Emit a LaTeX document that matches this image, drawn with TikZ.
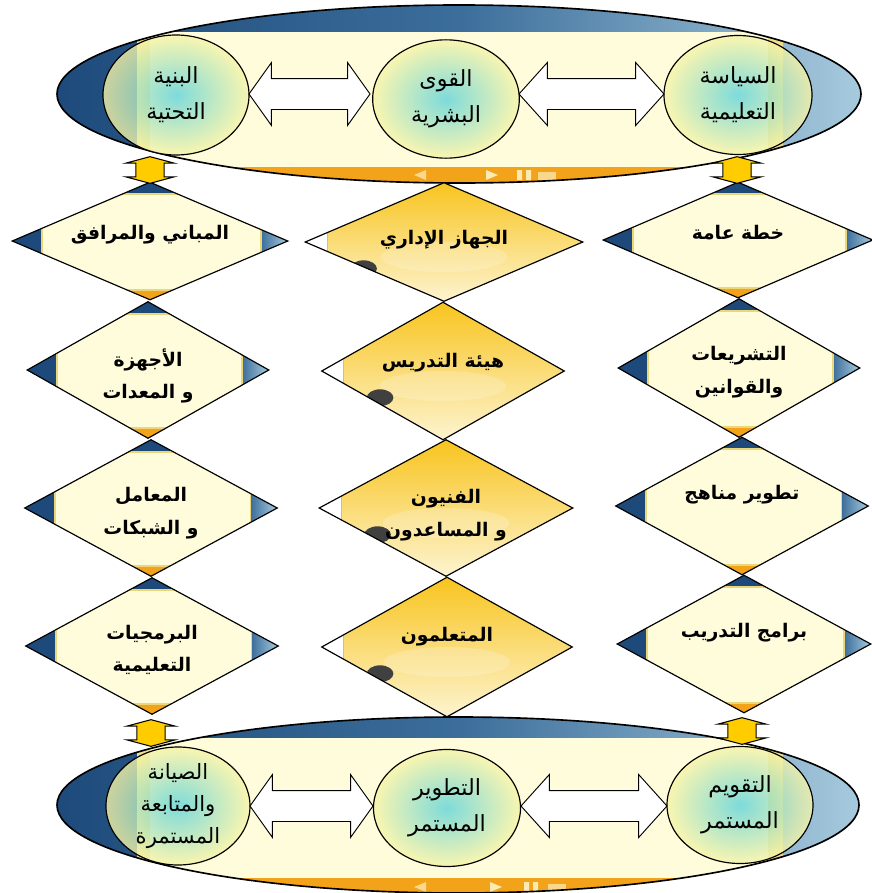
\documentclass[tikz,border=0pt]{standalone}
\usepackage{fontspec}
\newfontfamily\arabicfont[Script=Arabic]{DejaVu Sans}
\TeXXeTstate=1
\usetikzlibrary{shapes.geometric,shapes.arrows}
\definecolor{cream}{HTML}{FFFCDC}
\definecolor{panelrim}{HTML}{EBD77A}
\definecolor{deepblue}{HTML}{1D4A7A}
\definecolor{midblue}{HTML}{3C6E9B}
\definecolor{paleblue}{HTML}{A9CCDF}
\definecolor{barorange}{HTML}{F2A31A}
\definecolor{gold}{HTML}{F8C41E}
\definecolor{palegold}{HTML}{FDF4D0}
\definecolor{aqua}{HTML}{5ED3DB}
\definecolor{lemon}{HTML}{F8F4A6}
\definecolor{liftgold}{HTML}{FFCC00}
\newcommand\rl[1]{\beginR#1\endR}

\begin{document}
\begin{tikzpicture}[x=0.03cm,y=-0.03cm,
  orb/.style={ellipse,draw,line width=1pt,inner color=aqua,outer color=lemon,fill opacity=0.8,text opacity=1,align=center,font=\arabicfont\fontsize{19}{31}\selectfont},
  link/.style={double arrow,draw,line width=0.8pt,fill=white,minimum width=1.86cm,double arrow head extend=0.48cm,inner xsep=0pt,inner ysep=0.45cm},
  lift/.style={double arrow,draw,line width=0.9pt,fill=liftgold,rotate=90,minimum height=0.8cm,minimum width=1.42cm,double arrow head extend=0.3cm,double arrow tip angle=150,inner xsep=0pt,inner ysep=0.41cm},
  tile/.style={diamond,draw,line width=1pt,inner sep=0pt,fill=cream,path picture={
    \fill[deepblue] (path picture bounding box.south west) rectangle ([xshift=0.9cm]path picture bounding box.north west);
    \shade[left color=midblue,right color=paleblue] ([xshift=-0.8cm]path picture bounding box.south east) rectangle (path picture bounding box.north east);
    \fill[deepblue] (path picture bounding box.north west) rectangle ([yshift=-0.36cm]path picture bounding box.north east);
    \fill[barorange] (path picture bounding box.south west) rectangle ([yshift=0.3cm]path picture bounding box.south east);
    \draw[panelrim,line width=1.5pt] ([xshift=0.9cm,yshift=0.3cm]path picture bounding box.south west) rectangle ([xshift=-0.8cm,yshift=-0.36cm]path picture bounding box.north east);}},
  goldtile/.style={diamond,draw,line width=1pt,inner sep=0pt,top color=gold,bottom color=palegold,path picture={
    \fill[white,opacity=0.2] ([yshift=-0.45cm]path picture bounding box.center) ellipse [x radius=1.9cm,y radius=0.45cm];
    \fill[white] (path picture bounding box.south west) rectangle ([xshift=0.66cm]path picture bounding box.north west);
    \draw[black!25] ([xshift=0.66cm]path picture bounding box.south west) -- ([xshift=0.66cm]path picture bounding box.north west);
    \fill[black!75] ([xshift=1.75cm,yshift=-0.8cm]path picture bounding box.west) ellipse [x radius=0.4cm,y radius=0.25cm];}},
  tiletext/.style={align=center,font=\arabicfont\bfseries\fontsize{16}{28}\selectfont}]
\useasboundingbox[fill=white] (0,0) rectangle (872,893);

\begin{scope}
 \clip (459,94) ellipse [x radius=402,y radius=89];
 \shade[left color=deepblue,right color=paleblue,middle color=midblue] (50,0) rectangle (870,190);
 \fill[cream] (137,32) rectangle (783,167);
 \fill[panelrim,opacity=0.8] (137,32) rectangle (150,167);
 \fill[panelrim,opacity=0.8] (768,32) rectangle (783,167);
 \fill[barorange] (137,167) rectangle (783,190);
 \fill[cream,opacity=0.6] (414,175)--(426,170)--(426,180)--cycle;
 \fill[cream,opacity=0.8] (486,170)--(498,175)--(486,180)--cycle;
 \fill[cream,opacity=0.8] (517,170) rectangle (522,180) (526,170) rectangle (531,180);
 \fill[cream,opacity=0.6] (538,172) rectangle (556,180);
\end{scope}
\draw[line width=1.4pt] (459,94) ellipse [x radius=402,y radius=89];

\begin{scope}
 \clip (458,805) ellipse [x radius=401,y radius=88];
 \shade[left color=deepblue,right color=paleblue,middle color=midblue] (50,715) rectangle (870,893);
 \fill[cream] (137,738) rectangle (783,878);
 \fill[panelrim,opacity=0.8] (137,738) rectangle (150,878);
 \fill[panelrim,opacity=0.8] (768,738) rectangle (783,878);
 \fill[barorange] (137,878) rectangle (783,895);
 \fill[cream,opacity=0.6] (414,887)--(426,882)--(426,892)--cycle;
 \fill[cream,opacity=0.8] (490,882)--(502,887)--(490,892)--cycle;
 \fill[cream,opacity=0.8] (524,882) rectangle (529,892) (533,882) rectangle (538,892);
 \fill[cream,opacity=0.6] (548,884) rectangle (566,892);
\end{scope}
\draw[line width=1.4pt] (458,805) ellipse [x radius=401,y radius=88];

\node[tile,minimum width=8.28cm,minimum height=3.54cm] (infra1) at (150,241) {};
\node[tile,minimum width=7.26cm,minimum height=4.11cm] (infra2) at (148,370) {};
\node[tile,minimum width=7.59cm,minimum height=4.11cm] (infra3) at (151,508) {};
\node[tile,minimum width=7.59cm,minimum height=4.11cm] (infra4) at (152,646) {};
\node[goldtile,minimum width=8.34cm,minimum height=3.57cm] (staff1) at (444,242) {};
\node[goldtile,minimum width=7.29cm,minimum height=4.14cm] (staff2) at (443,371) {};
\node[goldtile,minimum width=7.62cm,minimum height=4.11cm] (staff3) at (446,508) {};
\node[goldtile,minimum width=7.53cm,minimum height=4.2cm] (staff4) at (447,647) {};
\node[tile,minimum width=8.1cm,minimum height=3.48cm] (policy1) at (738,240) {};
\node[tile,minimum width=7.26cm,minimum height=4.17cm] (policy2) at (739,368) {};
\node[tile,minimum width=7.59cm,minimum height=4.14cm] (policy3) at (742,506) {};
\node[tile,minimum width=7.62cm,minimum height=4.14cm] (policy4) at (744,644) {};

\node[tiletext] (infra1t) at (150,235) {\rl{المباني والمرافق}};
\node[tiletext] (infra2t) at (148,376) {\rl{الأجهزة}\\\rl{و المعدات}};
\node[tiletext] (infra3t) at (151,513) {\rl{المعامل}\\\rl{و الشبكات}};
\node[tiletext] (infra4t) at (152,650) {\rl{البرمجيات}\\\rl{التعليمية}};
\node[tiletext] (staff1t) at (444,240) {\rl{الجهاز الإداري}};
\node[tiletext] (staff2t) at (443,363) {\rl{هيئة التدريس}};
\node[tiletext] (staff3t) at (446,515) {\rl{الفنيون}\\\rl{و المساعدون}};
\node[tiletext] (staff4t) at (447,637) {\rl{المتعلمون}};
\node[tiletext] (policy1t) at (738,233) {\rl{خطة عامة}};
\node[tiletext] (policy2t) at (739,372) {\rl{التشريعات}\\\rl{والقوانين}};
\node[tiletext] (policy3t) at (742,495) {\rl{تطوير مناهج}};
\node[tiletext] (policy4t) at (744,633) {\rl{برامج التدريب}};

\node[lift] (liftA) at (150,170) {};
\node[lift] (liftB) at (737,170) {};
\node[lift] (liftC) at (151,733) {};
\node[lift] (liftD) at (742,731) {};

\node[orb,minimum width=4.38cm,minimum height=3.6cm] (infra) at (176,95) {\rl{البنية}\\\rl{التحتية}};
\node[orb,minimum width=4.4cm,minimum height=3.55cm] (staff) at (446,99) {\rl{القوى}\\\rl{البشرية}};
\node[orb,minimum width=4.44cm,minimum height=3.57cm] (policy) at (738,95) {\rl{السياسة}\\\rl{التعليمية}};
\node[orb,minimum width=4.32cm,minimum height=3.54cm,inner ysep=-20pt,font=\arabicfont\fontsize{18}{27}\selectfont] (upkeep) at (178,806) {\rl{الصيانة}\\\rl{والمتابعة}\\\rl{المستمرة}};
\node[orb,minimum width=4.41cm,minimum height=3.51cm] (growth) at (447,808) {\rl{التطوير}\\\rl{المستمر}};
\node[orb,minimum width=4.38cm,minimum height=3.51cm] (review) at (740,805) {\rl{التقويم}\\\rl{المستمر}};

\node[link,minimum height=3.63cm,double arrow tip angle=109] (linkA) at (309.5,94) {};
\node[link,minimum height=4.35cm,double arrow tip angle=96] (linkB) at (591.5,94) {};
\node[link,minimum height=3.69cm,double arrow tip angle=109] (linkC) at (311.5,806) {};
\node[link,minimum height=4.38cm,double arrow tip angle=96] (linkD) at (594,806) {};
\end{tikzpicture}
\end{document}
